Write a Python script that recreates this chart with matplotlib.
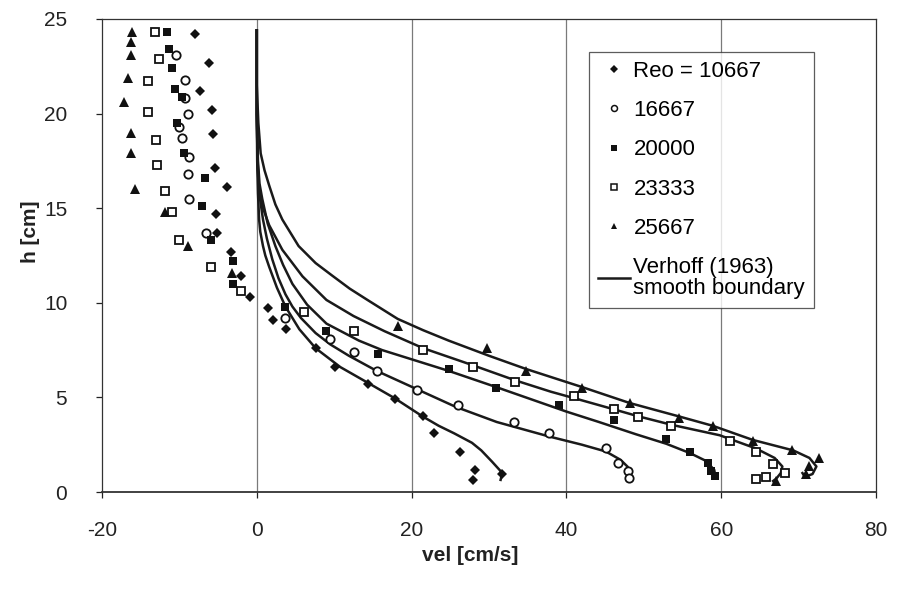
import numpy as np
import matplotlib.pyplot as plt
from matplotlib.lines import Line2D

plt.rcParams['font.family'] = ['Liberation Sans', 'DejaVu Sans']
plt.rcParams['axes.unicode_minus'] = False

# measured points (vel [cm/s], h [cm])
re10667_v = [-8.0, -6.2, -7.3, -5.8, -5.7, -5.4, -3.9, -5.3, -5.1, -3.3, -2.1, -0.9, 1.5, 2.1, 3.8,
             7.6, 10.1, 14.4, 17.8, 21.5, 22.9, 26.2, 28.2, 27.9, 31.7]
re10667_h = [24.2, 22.7, 21.2, 20.2, 18.9, 17.1, 16.1, 14.7, 13.7, 12.7, 11.4, 10.3, 9.7, 9.1, 8.6,
             7.6, 6.6, 5.7, 4.9, 4.0, 3.1, 2.1, 1.17, 0.64, 0.95]

re16667_v = [-10.4, -9.3, -9.3, -8.9, -10.0, -9.7, -8.8, -8.9, -8.7, -6.6, 3.7, 9.4, 12.5, 15.5,
             20.7, 26.0, 33.2, 37.7, 45.1, 46.7, 48.0, 48.1]
re16667_h = [23.1, 21.8, 20.8, 20.0, 19.3, 18.7, 17.7, 16.8, 15.5, 13.7, 9.2, 8.1, 7.4, 6.4,
             5.4, 4.6, 3.7, 3.1, 2.3, 1.55, 1.1, 0.76]

re20000_v = [-11.6, -11.3, -10.9, -10.6, -9.7, -10.3, -9.4, -6.7, -7.1, -5.9, -3.1, -3.1, 3.7,
             9.0, 15.7, 24.8, 30.9, 39.0, 46.1, 52.9, 56.0, 58.3, 58.7, 59.2]
re20000_h = [24.3, 23.4, 22.4, 21.3, 20.9, 19.5, 17.9, 16.6, 15.1, 13.3, 12.2, 11.0, 9.8,
             8.5, 7.3, 6.5, 5.5, 4.6, 3.8, 2.8, 2.1, 1.55, 1.1, 0.85]

re23333_v = [-13.1, -12.7, -14.0, -14.0, -13.0, -12.9, -11.9, -10.9, -10.1, -5.9, -2.0, 6.1,
             12.5, 21.5, 27.9, 33.4, 41.0, 46.2, 49.3, 53.5, 61.1, 64.5, 66.7, 68.3, 65.8, 64.5]
re23333_h = [24.3, 22.9, 21.7, 20.1, 18.6, 17.3, 15.9, 14.8, 13.3, 11.9, 10.6, 9.5,
             8.5, 7.5, 6.6, 5.8, 5.05, 4.4, 3.96, 3.5, 2.7, 2.1, 1.48, 1.02, 0.81, 0.67]

re25667_v = [-16.1, -16.3, -16.3, -16.6, -17.2, -16.3, -16.3, -15.8, -11.9, -8.9, -3.2, 18.2,
             29.7, 34.8, 42.0, 48.2, 54.5, 58.9, 64.1, 69.2, 72.7, 71.4, 71.0, 67.1]
re25667_h = [24.3, 23.8, 23.1, 21.9, 20.6, 19.0, 17.9, 16.0, 14.8, 13.0, 11.6, 8.8,
             7.6, 6.4, 5.5, 4.7, 3.9, 3.5, 2.7, 2.2, 1.8, 1.4, 0.95, 0.58]

# Verhoff (1963) smooth boundary curves
vh10667_v = [0.0, 0.0, 0.05, 0.15, 0.3, 0.45, 0.8, 1.1, 1.6, 2.6, 3.7, 5.5, 7.6, 10.8, 14.4, 17.8,
             21.4, 23.5, 25.5, 27.8, 29.0, 30.4, 31.4, 31.7, 31.5]
vh10667_h = [24.4, 20.0, 17.5, 15.8, 14.4, 13.75, 13.0, 12.5, 11.9, 10.8, 9.8, 8.6, 7.6, 6.6, 5.76, 4.96,
             4.0, 3.5, 3.1, 2.6, 2.2, 1.6, 1.15, 0.99, 0.64]

vh16667_v = [0.0, 0.0, 0.1, 0.2, 0.45, 0.8, 1.3, 2.0, 2.8, 3.7, 4.6, 5.7, 7.6, 9.5, 11.9, 15.5,
             20.6, 25.7, 31.0, 37.8, 42.0, 45.1, 47.0, 47.9, 48.2, 48.0]
vh16667_h = [24.4, 20.0, 17.3, 16.5, 15.4, 14.4, 13.4, 12.3, 11.3, 10.45, 9.8, 9.2, 8.4, 7.8, 7.2, 6.4,
             5.45, 4.5, 3.7, 2.93, 2.5, 2.14, 1.7, 1.34, 0.99, 0.72]

vh20000_v = [0.0, 0.0, 0.15, 0.35, 0.7, 1.4, 2.4, 3.4, 4.6, 6.5, 9.0, 13.2, 16.2, 20.5, 24.8, 30.9,
             36.5, 40.0, 44.2, 49.0, 52.9, 56.0, 58.0, 59.1, 59.3]
vh20000_h = [24.4, 20.0, 17.5, 16.3, 15.5, 14.2, 13.0, 12.0, 11.0, 9.9, 8.9, 8.0, 7.5, 6.95, 6.4, 5.55,
             4.75, 4.25, 3.7, 3.05, 2.55, 2.05, 1.65, 1.17, 0.72]

vh23333_v = [0.0, 0.0, 0.1, 0.3, 0.8, 1.6, 3.3, 5.9, 9.0, 12.5, 16.5, 21.5, 27.9, 33.4, 38.0,
             41.0, 45.0, 49.3, 53.6, 59.8, 64.5, 66.9, 67.9, 67.7, 67.1, 66.7]
vh23333_h = [24.4, 20.0, 17.5, 16.0, 15.0, 14.1, 12.8, 11.4, 10.15, 9.3, 8.5, 7.6, 6.7, 5.9, 5.3,
             4.96, 4.5, 4.0, 3.55, 3.0, 2.3, 1.8, 1.35, 1.0, 0.7, 0.58]

vh25667_v = [0.0, 0.0, 0.2, 0.5, 1.0, 1.6, 2.4, 3.3, 5.4, 7.6, 9.7, 12.0, 14.3, 18.2, 21.5, 24.8,
             30.0, 34.8, 40.4, 42.0, 48.2, 54.5, 58.9, 64.1, 69.3, 71.4, 72.3, 71.8, 70.8, 70.5]
vh25667_h = [24.4, 21.5, 19.5, 17.9, 17.0, 16.2, 15.2, 14.4, 13.0, 12.1, 11.45, 10.75, 10.15, 9.15, 8.55, 8.0,
             7.2, 6.5, 5.76, 5.55, 4.7, 4.0, 3.5, 2.75, 2.2, 1.8, 1.35, 0.95, 0.8, 1.0]

labels = ['Reo = 10667', '16667', '20000', '23333', '25667']
x_ticks = [-20, 0, 20, 40, 60, 80]
y_ticks = [0, 5, 10, 15, 20, 25]

fig = plt.figure(figsize=(8.97, 5.95), dpi=100)
ax = fig.add_axes([102 / 897, 1 - 492 / 595, 774 / 897, 473 / 595])

for xv in [0, 20, 40, 60]:
    ax.axvline(xv, color='#7a7a7a', lw=0.9, zorder=0)

for v, h in [(vh10667_v, vh10667_h), (vh16667_v, vh16667_h), (vh20000_v, vh20000_h),
             (vh23333_v, vh23333_h), (vh25667_v, vh25667_h)]:
    ax.plot(v, h, color='#1a1a1a', lw=1.8, solid_joinstyle='round', zorder=2)

ms = 6
ax.plot(re10667_v, re10667_h, 'D', color='#111111', ms=ms - 1, mew=0, zorder=3)
ax.plot(re16667_v, re16667_h, 'o', mfc='white', mec='#111111', ms=ms, mew=1.3, zorder=3)
ax.plot(re20000_v, re20000_h, 's', color='#111111', ms=ms, mew=0, zorder=3)
ax.plot(re23333_v, re23333_h, 's', mfc='white', mec='#111111', ms=ms, mew=1.3, zorder=3)
ax.plot(re25667_v, re25667_h, '^', color='#111111', ms=ms + 0.5, mew=0, zorder=3)

ax.set_xlim(-20, 80)
ax.set_ylim(0, 25)
ax.set_xticks(x_ticks)
ax.set_yticks(y_ticks)
ax.tick_params(direction='out', length=4, width=0.9, labelsize=15, colors='#222222')
ax.tick_params(axis='y', pad=21)
ax.tick_params(axis='x', pad=17)
for s in ax.spines.values():
    s.set_color('#333333')
    s.set_linewidth(0.9)
ax.spines['bottom'].set_linewidth(1.3)

ax.set_xlabel('vel [cm/s]', fontsize=15, fontweight='bold', color='#222222')
ax.set_ylabel('h [cm]', fontsize=15, fontweight='bold', color='#222222')
ax.xaxis.set_label_coords((470 - 102) / 774, -0.115)
ax.yaxis.set_label_coords(-0.08, (492 - 232) / 473)

handles = [
    Line2D([], [], ls='', marker='D', color='#111111', ms=3.8, mew=0),
    Line2D([], [], ls='', marker='o', mfc='white', mec='#111111', ms=4.3, mew=1.1),
    Line2D([], [], ls='', marker='s', color='#111111', ms=4.3, mew=0),
    Line2D([], [], ls='', marker='s', mfc='white', mec='#111111', ms=4.3, mew=1.1),
    Line2D([], [], ls='', marker='^', color='#111111', ms=4.8, mew=0),
    Line2D([], [], color='#1a1a1a', lw=1.8),
]
leg = ax.legend(handles, labels + ['Verhoff (1963)\nsmooth boundary'],
                loc='upper left', bbox_to_anchor=((589 - 102) / 774, (492 - 52) / 473),
                fontsize=16, frameon=True, fancybox=False, edgecolor='#333333',
                handlelength=1.45, handletextpad=0.15, labelspacing=0.82, borderpad=0.4,
                borderaxespad=0)
leg.get_frame().set_linewidth(0.9)
for t in leg.get_texts():
    t.set_linespacing(1.0)

fig.savefig('out.png', dpi=100, facecolor='white')
